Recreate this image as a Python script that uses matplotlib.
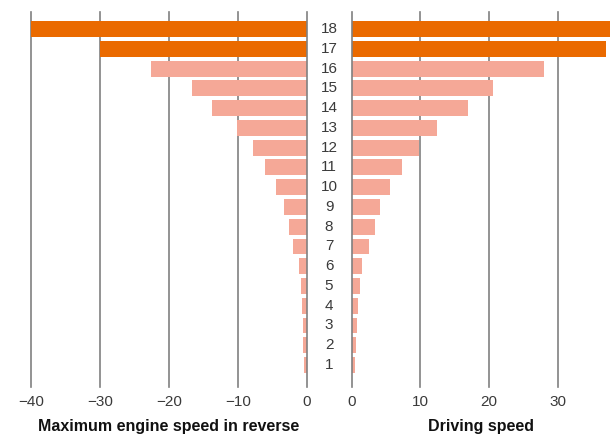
import matplotlib.pyplot as plt
import numpy as np

plt.rcParams['font.family'] = ['Liberation Sans', 'DejaVu Sans']

# 段数 1〜18
steps = list(range(1, 19))

# 後退時の最大回転数（負の値）
reverse_speed = [-0.35, -0.5, -0.5, -0.75, -0.85, -1.15, -2.0, -2.6, -3.25,
                 -4.5, -6.0, -7.85, -10.1, -13.7, -16.6, -22.7, -30.0, -40.0]

# 走行速度
driving_speed = [0.45, 0.6, 0.75, 0.9, 1.2, 1.45, 2.5, 3.35, 4.1,
                 5.55, 7.3, 9.8, 12.4, 16.9, 20.6, 28.0, 37.1, 38.0]

highlight = [17, 18]

left_ticks = [-40, -30, -20, -10, 0]
right_ticks = [0, 10, 20, 30]

dark = '#EA6A00'
light = '#F5A897'
grid_col = '#808080'
text_col = '#3a3a3a'

colors = [dark if s in highlight else light for s in steps]

fig = plt.figure(figsize=(6.1, 4.37), dpi=100)
ax_l = fig.add_axes([0.0516, 0.1151, 0.4512, 0.8581])
ax_r = fig.add_axes([0.5766, 0.1151, 0.4234, 0.8581])

ax_l.barh(steps, reverse_speed, height=0.8, color=colors, zorder=2)
ax_r.barh(steps, driving_speed, height=0.8, color=colors, zorder=2)

ax_l.set_xlim(-40, 0)
ax_l.set_xticks(left_ticks)
ax_l.set_xticklabels([str(t).replace('-', '\u2212') for t in left_ticks])
ax_r.set_xlim(0, 37.65)
ax_r.set_xticks(right_ticks)

for ax, ticks in ((ax_l, left_ticks), (ax_r, right_ticks)):
    ax.set_ylim(-0.1, 18.88)
    ax.set_yticks([])
    for sp in ax.spines.values():
        sp.set_visible(False)
    ax.tick_params(axis='x', length=0, pad=6, labelsize=11, labelcolor=text_col)
    # グリッド線（端で切れないように clip しない）
    for t in ticks:
        z = 3 if t == 0 else 1
        ax.axvline(t, color=grid_col, linewidth=1.2, zorder=z, clip_on=False)

ax_l.set_xlabel('Maximum engine speed in reverse', fontsize=11.5, fontweight='bold',
                color='#111111', labelpad=7)
ax_r.set_xlabel('Driving speed', fontsize=11.5, fontweight='bold',
                color='#111111', labelpad=7)

# 中央の段数ラベル
for s in steps:
    y_fig = ax_l.transData.transform((0, s))[1]
    fig.text(329 / 610, y_fig / fig.dpi / fig.get_figheight(), str(s),
             ha='center', va='center', fontsize=11, color=text_col)

fig.savefig('out.png', dpi=100)
